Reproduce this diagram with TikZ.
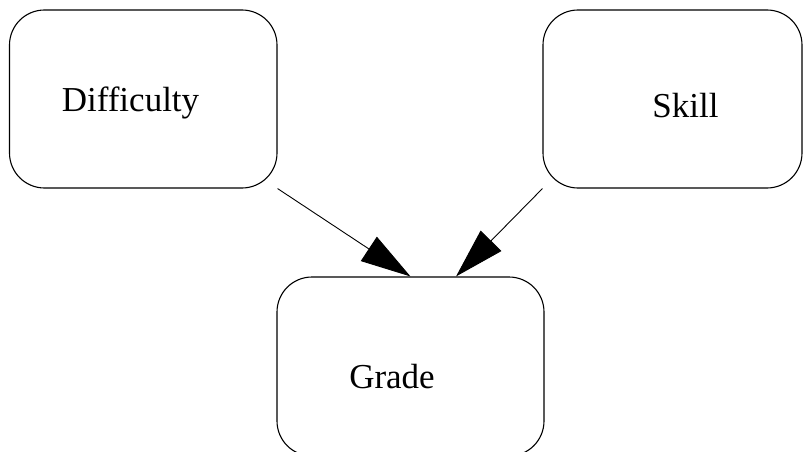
\documentclass[tikz,border=0pt]{standalone}
\usepackage{fontspec}
\setmainfont{Liberation Serif}
\usetikzlibrary{arrows.meta,calc}
\begin{document}
\begin{tikzpicture}[x=1pt,y=-1pt,
  box/.style={draw, line width=1.1pt, rounded corners=35pt, inner sep=0pt},
  lbl/.style={inner sep=0pt, font=\fontsize{35}{42}\selectfont},
  edge/.style={line width=0.9pt, -{Triangle[length=50pt,width=29pt]}}]
\useasboundingbox (0,0) rectangle (803,452);
\clip (0,0) rectangle (803,452);
\node[box, minimum width=267.5pt, minimum height=178pt] (d) at (143.25,99) {};
\node[box, minimum width=259pt, minimum height=178pt] (s) at (672.5,99) {};
\node[box, minimum width=267pt, minimum height=179pt] (g) at (410.5,366.5) {};
\node[lbl, anchor=base] (dl) at (130.5,111) {Difficulty};
\node[lbl, anchor=base] (sl) at (685.5,117) {Skill};
\node[lbl, anchor=base] (gl) at (392,388) {Grade};
\coordinate (gt) at ($(g.north)+(45.5pt,0)$);
\draw[edge] (d.south east) -- (g.north);
\draw[edge] (s.south west) -- (gt);
\end{tikzpicture}
\end{document}
